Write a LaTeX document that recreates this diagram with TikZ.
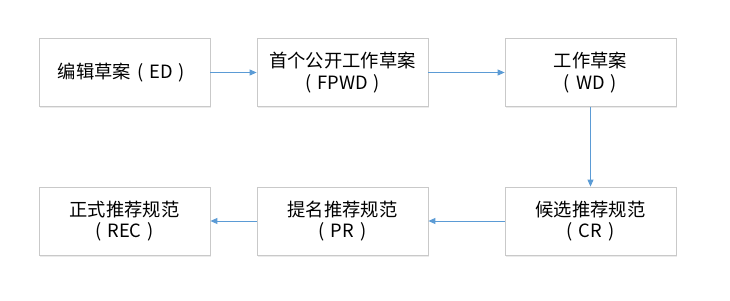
\documentclass[tikz,border=0pt]{standalone}
\usepackage{fontspec}
\newfontfamily\cjk{Noto Sans CJK SC}
\usetikzlibrary{arrows.meta,shadows}
\definecolor{arrowblue}{HTML}{5B9BD5}
\definecolor{boxgray}{HTML}{C9C9C9}
\newcommand{\lp}{\makebox[1em]{(}}
\newcommand{\rp}{\makebox[1em]{)}}
\begin{document}
\begin{tikzpicture}[x=1pt,y=-1pt,
  stagebox/.style={draw=boxgray,line width=0.8pt,fill=white,minimum width=171pt,minimum height=68pt,
    inner sep=0pt,align=center,font=\cjk\fontsize{18.3}{21.5}\selectfont,
    drop shadow={shadow xshift=0.8pt,shadow yshift=-1.5pt,fill=black!8,opacity=1}},
  flow/.style={draw=arrowblue,line width=0.9pt,-{Triangle[length=7pt,width=6pt]}}]
\useasboundingbox (0,0) rectangle (730,300);
\node[stagebox] (ed) at (124.5,72.5) {编辑草案\lp ED\rp};
\node[stagebox] (fpwd) at (342.5,72.5) {首个公开工作草案\\\lp FPWD\rp};
\node[stagebox] (wd) at (590.5,72.5) {工作草案\\\lp WD\rp};
\node[stagebox] (rec) at (124.5,221) {正式推荐规范\\\lp REC\rp};
\node[stagebox] (pr) at (342.5,221) {提名推荐规范\\\lp PR\rp};
\node[stagebox] (cr) at (590.5,221) {候选推荐规范\\\lp CR\rp};
\draw[flow] (ed) -- (fpwd);
\draw[flow] (fpwd) -- (wd);
\draw[flow] (wd) -- (cr);
\draw[flow] (cr) -- (pr);
\draw[flow] (pr) -- (rec);
\end{tikzpicture}
\end{document}
